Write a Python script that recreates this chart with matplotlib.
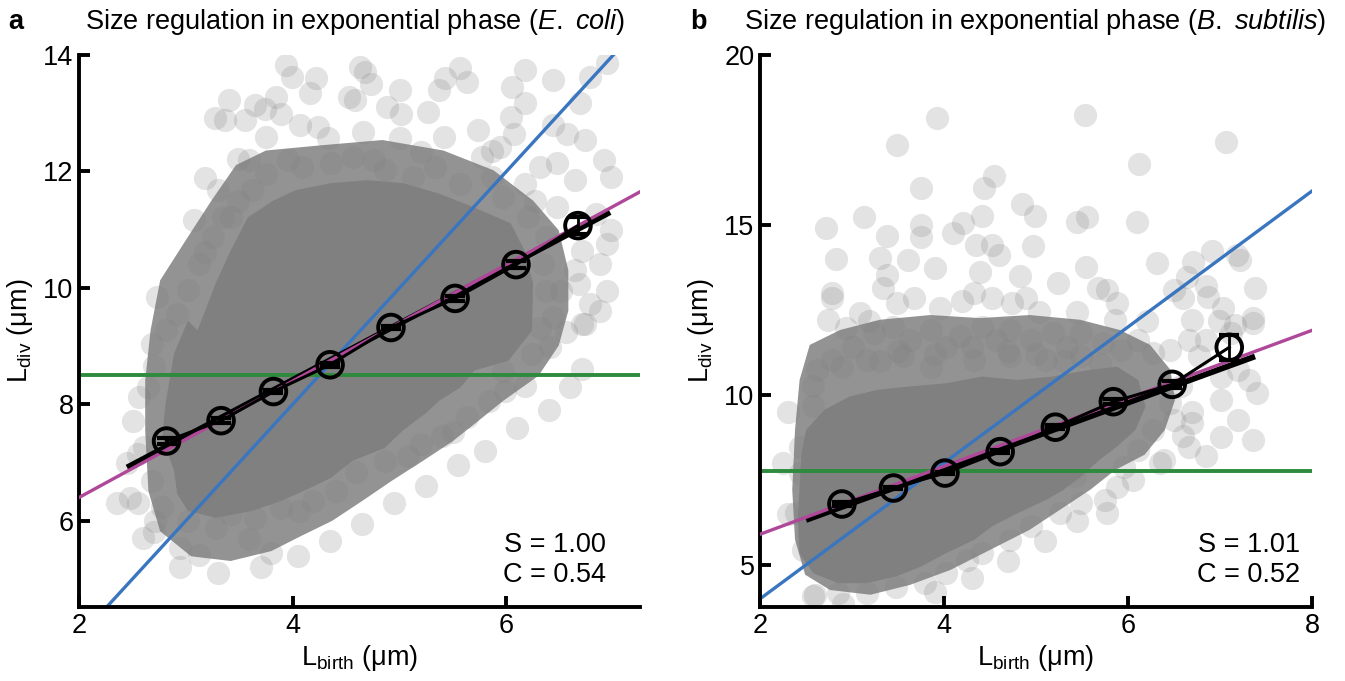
import matplotlib
matplotlib.use("Agg")
import matplotlib.pyplot as plt
import numpy as np

plt.rcParams['font.family'] = ['Liberation Sans', 'DejaVu Sans']
plt.rcParams['mathtext.fontset'] = 'custom'
plt.rcParams['mathtext.rm'] = 'Liberation Sans'
plt.rcParams['mathtext.it'] = 'Liberation Sans:italic'

# ---------------- Panel a: E. coli ----------------
# outline of the fully saturated (dense) part of the cloud
ecoli_core_x = [3.11, 3.28, 3.42, 3.58, 3.82, 4.03, 4.36, 4.70, 5.03, 5.37, 5.70, 6.04, 6.17, 6.25,
                6.24, 6.02, 5.70, 5.57, 5.37, 5.24, 5.03, 4.86, 4.56, 4.36, 4.16, 3.89, 3.62, 3.28,
                3.02, 2.92, 2.89, 2.78, 2.81, 2.89, 3.02]
ecoli_core_y = [9.27, 10.08, 10.64, 11.21, 11.50, 11.68, 11.80, 11.85, 11.80, 11.62, 11.38, 11.11, 10.64, 10.08,
                9.27, 8.75, 8.58, 8.29, 8.06, 7.84, 7.55, 7.25, 7.03, 6.74, 6.56, 6.34, 6.17, 6.05,
                6.17, 6.46, 6.86, 7.43, 8.01, 8.87, 9.44]
# outline of the semi-dense (overlapping) halo around it
ecoli_halo_x = [2.67, 2.76, 3.00, 3.24, 3.47, 3.75, 4.27, 4.84, 5.41, 5.88, 6.25, 6.49, 6.58, 6.58, 6.49,
                6.30, 5.97, 5.74, 5.50, 5.22, 4.93, 4.65, 4.37, 4.08, 3.80, 3.42, 3.05, 2.76, 2.65, 2.62, 2.62]
ecoli_halo_y = [9.27, 10.13, 10.82, 11.50, 12.11, 12.36, 12.45, 12.54, 12.36, 12.02, 11.50, 10.99, 10.30, 9.61, 9.01,
                8.49, 8.06, 7.72, 7.37, 7.03, 6.69, 6.34, 6.00, 5.74, 5.48, 5.31, 5.39, 5.82, 6.51, 7.55, 8.41]

ecoli_x = [3.94, 3.99, 4.22, 4.63, 4.68, 4.73, 5.57, 5.43, 5.63, 5.37, 6.17, 6.05, 6.44, 6.78, 6.94,
           6.69, 6.17, 6.04, 5.73, 6.07, 6.44, 6.57, 6.74, 6.91, 6.98, 3.40, 3.27, 3.37, 3.55, 3.65,
           3.74, 3.84, 3.89, 4.16, 4.53, 4.58, 4.88, 5.00, 5.01, 5.27, 4.07, 4.24, 4.33, 3.75, 4.66,
           5.00, 5.20, 5.42, 5.87, 5.94, 3.49, 3.59, 3.18, 3.30, 3.08, 3.35, 2.73, 3.18, 6.31, 6.47,
           6.64, 6.17, 6.27, 6.47, 6.84, 6.98, 6.94, 6.71, 6.88, 6.64, 6.94, 6.78, 6.51, 6.68,
           3.96, 4.09, 4.36, 4.56, 4.76, 4.86, 5.13, 5.33, 5.57, 5.77, 5.87, 5.97, 3.75, 3.62, 3.49,
           3.42, 3.25, 3.12, 3.02, 2.92, 6.20, 6.37, 6.34, 6.37, 6.44, 6.71, 6.88,
           2.68, 2.70, 2.56, 2.51, 2.55, 2.36, 2.55, 2.71, 2.70, 2.95, 3.12, 3.59, 3.80, 3.28, 3.65,
           4.06, 4.41, 4.59, 5.08, 5.40, 5.50, 5.84, 5.99, 6.17, 6.71, 6.41, 6.56, 6.74,
           4.86, 5.20, 5.63, 5.97, 6.24, 6.11, 6.31, 4.19, 3.89, 3.42, 3.02, 2.78, 2.68, 2.61, 2.65, 2.81,
           6.60, 6.40, 6.10, 5.80, 5.55, 5.25, 4.95, 4.65, 4.35, 4.05, 3.70, 3.30, 2.95, 2.60, 2.48, 2.45]
ecoli_y = [13.83, 13.62, 13.60, 13.80, 13.71, 13.51, 13.77, 13.60, 13.54, 13.40, 13.74, 13.45, 13.57, 13.63, 13.86,
           13.17, 13.17, 12.94, 12.71, 12.65, 12.80, 12.65, 12.54, 12.19, 11.91, 13.23, 12.91, 12.88, 12.88, 13.14,
           13.08, 13.28, 12.99, 13.34, 13.28, 13.23, 13.11, 13.40, 12.99, 13.02, 12.80, 12.77, 12.57, 12.59, 12.68,
           12.57, 12.34, 12.59, 12.36, 12.42, 12.22, 12.19, 11.88, 11.68, 11.16, 11.22, 9.84, 10.61, 12.08, 12.14,
           11.85, 11.79, 11.50, 11.39, 11.27, 10.99, 10.76, 10.64, 10.41, 10.30, 9.94, 9.73, 9.95, 10.07,
           12.19, 12.08, 12.14, 12.25, 12.19, 12.02, 11.91, 12.08, 11.79, 12.25, 11.91, 11.56, 11.96, 11.68, 11.50,
           11.22, 10.87, 10.41, 9.96, 9.55, 11.22, 10.87, 10.41, 9.95, 9.50, 9.38, 9.61,
           9.04, 8.66, 8.12, 7.72, 7.14, 6.31, 6.31, 6.00, 5.80, 5.54, 5.42, 5.68, 5.45, 5.88, 6.05,
           6.17, 6.51, 6.83, 7.12, 7.46, 7.52, 8.06, 8.23, 8.32, 8.61, 8.98, 9.24, 9.38,
           7.03, 7.32, 7.78, 8.58, 8.87, 9.27, 9.32, 6.34, 6.22, 6.11, 6.00, 6.23, 6.69, 7.26, 8.29, 9.27,
           8.30, 7.90, 7.60, 7.20, 6.95, 6.60, 6.30, 5.95, 5.65, 5.40, 5.20, 5.10, 5.20, 5.70, 6.40, 7.00]

ecoli_bin_x = [2.82, 3.33, 3.82, 4.35, 4.92, 5.52, 6.09, 6.67]
ecoli_bin_y = [7.37, 7.72, 8.22, 8.68, 9.32, 9.82, 10.40, 11.07]
ecoli_bin_err = [0.05, 0.04, 0.03, 0.03, 0.03, 0.04, 0.06, 0.15]
ecoli_fit = (0.97, 4.54, 2.45, 6.97)      # slope, intercept, x start, x end
ecoli_adder = 4.40                         # Ldiv = Lbirth + delta
ecoli_sizer = 8.50
ecoli_timer_slope = 2.0
ecoli_stats = "S = 1.00\nC = 0.54"

# ---------------- Panel b: B. subtilis ----------------
bsub_core_x = [2.50, 2.70, 2.97, 3.28, 3.63, 4.02, 4.41, 4.80, 5.18, 5.57, 5.88, 6.11, 6.19, 6.08, 5.88,
               5.69, 5.49, 5.30, 5.11, 4.80, 4.52, 4.33, 4.02, 3.75, 3.48, 3.16, 2.85, 2.58, 2.43, 2.41,
               2.43, 2.45]
bsub_core_y = [8.97, 9.56, 9.95, 10.15, 10.25, 10.34, 10.54, 10.44, 10.54, 10.73, 10.83, 10.44, 9.66, 8.97, 8.48,
               8.09, 7.60, 7.21, 6.91, 6.52, 6.13, 5.74, 5.34, 4.95, 4.66, 4.46, 4.46, 4.75, 5.34, 6.32,
               7.30, 8.28]
bsub_halo_x = [2.43, 2.54, 2.87, 3.30, 3.85, 4.39, 4.93, 5.48, 5.91, 6.24, 6.46, 6.51, 6.40, 6.18, 5.86,
               5.59, 5.26, 4.93, 4.50, 4.07, 3.63, 3.20, 2.76, 2.49, 2.38, 2.35, 2.38]
bsub_halo_y = [10.44, 11.47, 11.91, 12.21, 12.35, 12.26, 12.35, 12.21, 11.91, 11.47, 10.74, 9.85, 8.97, 8.24, 7.79,
               7.21, 6.62, 6.03, 5.44, 4.85, 4.41, 4.12, 4.26, 4.71, 5.74, 7.21, 8.97]

bsub_x = [3.92, 3.49, 5.53, 7.07, 6.12, 4.54, 4.43, 3.75, 4.85, 4.99, 4.41, 4.21, 4.10, 3.75, 3.75, 3.13,
          2.72, 3.38, 2.83, 3.30, 3.61, 3.90, 4.35, 4.52, 4.60, 4.97, 4.39, 4.83, 5.45, 5.55, 6.10, 5.54,
          5.24, 6.31, 6.71, 6.91, 7.18, 7.22, 7.38, 6.64, 6.85, 6.50, 6.60, 6.87, 7.03, 7.36, 6.70, 6.99,
          7.16, 6.21, 5.86, 5.88, 5.77, 5.67, 5.44, 5.03, 4.89, 4.74, 4.52, 4.33, 4.19, 3.96, 3.67, 3.49,
          3.34, 3.38, 2.78, 2.78, 3.09, 3.18, 2.74, 2.93,
          2.62, 2.78, 2.58, 3.01, 3.24, 3.44, 3.63, 3.86, 4.02, 4.17, 4.41, 4.56, 4.72, 4.95, 5.18, 5.34,
          5.49, 5.73, 5.92, 6.11, 6.27, 6.46, 6.66, 6.77, 7.01, 7.20, 7.32, 7.40, 7.01, 7.20, 7.36, 7.01,
          6.85, 6.70, 6.50, 6.39, 5.96, 5.77, 5.49, 5.42, 5.26, 4.95, 4.72, 4.41, 4.25, 4.02, 3.79, 3.48,
          3.16, 2.85, 2.58, 2.47, 2.39, 2.43, 2.43, 2.58, 2.89, 3.16, 3.55, 3.86, 4.33, 4.72, 5.11, 5.49,
          6.46, 6.27, 6.66, 6.11, 5.88, 6.58, 6.85, 7.12, 7.36, 2.60, 2.90,
          3.50, 3.90, 4.30, 4.70, 5.00, 3.30, 5.30, 5.70,
          6.70, 6.60, 6.35, 6.05, 5.75, 5.45, 5.10, 4.70, 4.30, 3.90, 2.30, 2.25, 2.30]
bsub_y = [18.14, 17.35, 18.24, 17.45, 16.79, 16.44, 16.08, 16.08, 15.62, 15.25, 15.25, 15.05, 14.76, 15.00, 14.66, 15.22,
          14.90, 14.68, 13.99, 14.02, 13.97, 13.73, 14.41, 14.41, 14.12, 14.38, 13.63, 13.50, 15.10, 15.23, 15.10, 13.77,
          13.28, 13.87, 13.92, 14.22, 14.12, 13.97, 13.14, 13.48, 13.19, 13.09, 12.84, 12.89, 12.57, 12.25, 12.21, 12.16,
          12.06, 12.16, 12.21, 12.70, 13.09, 13.14, 12.45, 12.45, 12.84, 12.70, 12.84, 12.99, 12.75, 12.55, 12.84, 12.70,
          13.14, 13.53, 12.99, 12.84, 12.40, 12.16, 12.21, 11.96,
          10.73, 11.03, 10.25, 11.42, 11.81, 12.01, 11.62, 11.91, 11.42, 11.72, 12.01, 11.62, 11.91, 11.62, 11.81, 11.42,
          11.81, 11.52, 11.32, 11.62, 11.23, 11.32, 11.62, 11.13, 10.54, 10.73, 10.44, 10.05, 9.85, 9.26, 8.68, 8.77,
          8.19, 9.17, 9.27, 8.09, 7.89, 6.52, 6.81, 7.60, 6.52, 6.13, 5.74, 5.34, 5.15, 4.76, 4.46, 4.36,
          4.17, 4.17, 4.07, 5.44, 6.52, 7.70, 8.48, 9.66, 10.83, 11.03, 11.13, 10.83, 11.03, 11.13, 11.03, 11.13,
          9.75, 8.97, 8.48, 8.38, 7.30, 10.25, 11.62, 11.81, 12.11, 4.10, 3.85,
          11.30, 11.20, 11.40, 11.30, 11.20, 11.00, 11.00, 10.90,
          9.50, 8.80, 8.00, 7.50, 6.90, 6.30, 5.70, 5.10, 4.60, 4.20, 6.50, 8.00, 9.50]

bsub_bin_x = [2.89, 3.45, 4.01, 4.61, 5.21, 5.84, 6.48, 7.10]
bsub_bin_y = [6.79, 7.26, 7.70, 8.33, 9.05, 9.80, 10.31, 11.40]
bsub_bin_err = [0.05, 0.04, 0.04, 0.05, 0.06, 0.08, 0.10, 0.37]
bsub_fit = (0.986, 3.855, 2.50, 7.38)
bsub_adder = 3.90
bsub_sizer = 7.77
bsub_timer_slope = 2.0
bsub_stats = "S = 1.01\nC = 0.52"

GRAY = '#808080'
BLUE = '#3a76c0'
MAGENTA = '#b0489a'
GREEN = '#2e8b3e'
FS = 19.5

fig = plt.figure(figsize=(13.45, 6.81), dpi=100)
axA = fig.add_axes([0.0587, 0.1087, 0.4171, 0.8105])
axB = fig.add_axes([0.5651, 0.1087, 0.4104, 0.8105])


def draw_panel(ax, halo_x, halo_y, core_x, core_y, px, py, bx, by, berr, fit, adder, sizer, tslope,
               xlim, ylim, xticks, yticks, stats, stats_x):
    ax.set_xlim(*xlim)
    ax.set_ylim(*ylim)
    ax.fill(halo_x, halo_y, color=GRAY, alpha=0.85, lw=0, zorder=1)
    ax.fill(core_x, core_y, color=GRAY, lw=0, zorder=1.2)
    ax.scatter(px, py, s=280, color=GRAY, alpha=0.22, lw=0, zorder=1.5)
    xs = np.array(xlim)
    ax.plot(xs, tslope * xs, color=BLUE, lw=2.4, zorder=2)
    ax.axhline(sizer, color=GREEN, lw=2.8, zorder=2)
    fx = np.array([fit[2], fit[3]])
    ax.plot(fx, fit[0] * fx + fit[1], color='black', lw=4.2, zorder=3, solid_capstyle='butt')
    ax.plot(xs, xs + adder, color=MAGENTA, lw=2.4, zorder=4)
    ax.plot(bx, by, color='black', lw=2.2, zorder=5)
    ax.errorbar(bx, by, yerr=berr, fmt='none', ecolor='black', elinewidth=2, capsize=7,
                capthick=3, zorder=5)
    ax.scatter(bx, by, s=340, facecolors='none', edgecolors='black', linewidths=2.8, zorder=6)
    ax.set_xticks(xticks)
    ax.set_yticks(yticks)
    for s in ['top', 'right']:
        ax.spines[s].set_visible(False)
    for s in ['left', 'bottom']:
        ax.spines[s].set_linewidth(2.8)
    ax.tick_params(direction='in', length=8, width=2.8, labelsize=FS, pad=4)
    ax.set_xlabel(r'L$_{\mathrm{birth}}$ (μm)', fontsize=FS, labelpad=3)
    ax.set_ylabel(r'L$_{\mathrm{div}}$ (μm)', fontsize=FS, labelpad=6)
    ax.text(stats_x, 0.035, stats, transform=ax.transAxes, ha='right', va='bottom',
            fontsize=FS, linespacing=1.2)


draw_panel(axA, ecoli_halo_x, ecoli_halo_y, ecoli_core_x, ecoli_core_y, ecoli_x, ecoli_y,
           ecoli_bin_x, ecoli_bin_y, ecoli_bin_err, ecoli_fit, ecoli_adder, ecoli_sizer,
           ecoli_timer_slope, (2, 7.25), (4.52, 14), [2, 4, 6], [6, 8, 10, 12, 14], ecoli_stats, 0.94)
draw_panel(axB, bsub_halo_x, bsub_halo_y, bsub_core_x, bsub_core_y, bsub_x, bsub_y,
           bsub_bin_x, bsub_bin_y, bsub_bin_err, bsub_fit, bsub_adder, bsub_sizer,
           bsub_timer_slope, (2, 8), (3.76, 20), [2, 4, 6, 8], [5, 10, 15, 20], bsub_stats, 0.978)

fig.text(0.006, 0.968, 'a', fontsize=FS, fontweight='bold', va='center')
fig.text(0.063, 0.968, r'Size regulation in exponential phase ($\mathit{E.}$ $\mathit{coli}$)',
         fontsize=FS, va='center')
fig.text(0.513, 0.968, 'b', fontsize=FS, fontweight='bold', va='center')
fig.text(0.553, 0.968, r'Size regulation in exponential phase ($\mathit{B.}$ $\mathit{subtilis}$)',
         fontsize=FS, va='center')

fig.savefig('out.png', dpi=100)
